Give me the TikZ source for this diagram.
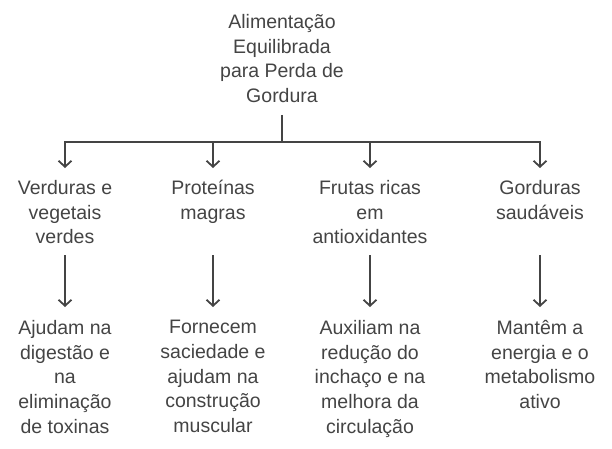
\documentclass[tikz,border=0pt]{standalone}
\usepackage{fontspec}
\setmainfont{Liberation Sans}
\usetikzlibrary{arrows.meta}

\definecolor{inkgray}{HTML}{444444}

\begin{document}
\begin{tikzpicture}[x=1pt,y=-1pt,
    every node/.style={inner sep=0pt, align=center, anchor=north, text=inkgray,
      font=\fontsize{19.5}{24.7}\selectfont},
    link/.style={draw=inkgray, line width=1.8pt},
    arr/.style={link, -{Straight Barb[length=6pt,width=13pt,line width=1.8pt]}}]
   \useasboundingbox (0,0) rectangle (612,448);
   % title
   \node (root) at (282,14) {Alimentação\\Equilibrada\\para Perda de\\Gordura};
   % groups
   \node (verd) at (65,180)  {Verduras e\\vegetais\\verdes};
   \node (prot) at (213,180) {Proteínas\\magras};
   \node (frut) at (370,180) {Frutas ricas\\em\\antioxidantes};
   \node (gord) at (540,180) {Gorduras\\saudáveis};
   % effects
   \node (verdx) at (65,320)  {Ajudam na\\digestão e\\na\\eliminação\\de toxinas};
   \node (protx) at (213,320) {Fornecem\\saciedade e\\ajudam na\\construção\\muscular};
   \node (frutx) at (370,320) {Auxiliam na\\redução do\\inchaço e na\\melhora da\\circulação};
   \node (gordx) at (540,320) {Mantêm a\\energia e o\\metabolismo\\ativo};
   \coordinate (bus) at (282,142);
   \coordinate (lvl) at (0,255);
   \draw[link, shorten <=12pt] (root) -- (bus);
   \foreach \g in {verd,prot,frut,gord}{
     \draw[arr, shorten >=12pt] (bus) -| (\g);
     \draw[arr, shorten >=13pt] (\g |- lvl) -- (\g x);
   }
\end{tikzpicture}
\end{document}
